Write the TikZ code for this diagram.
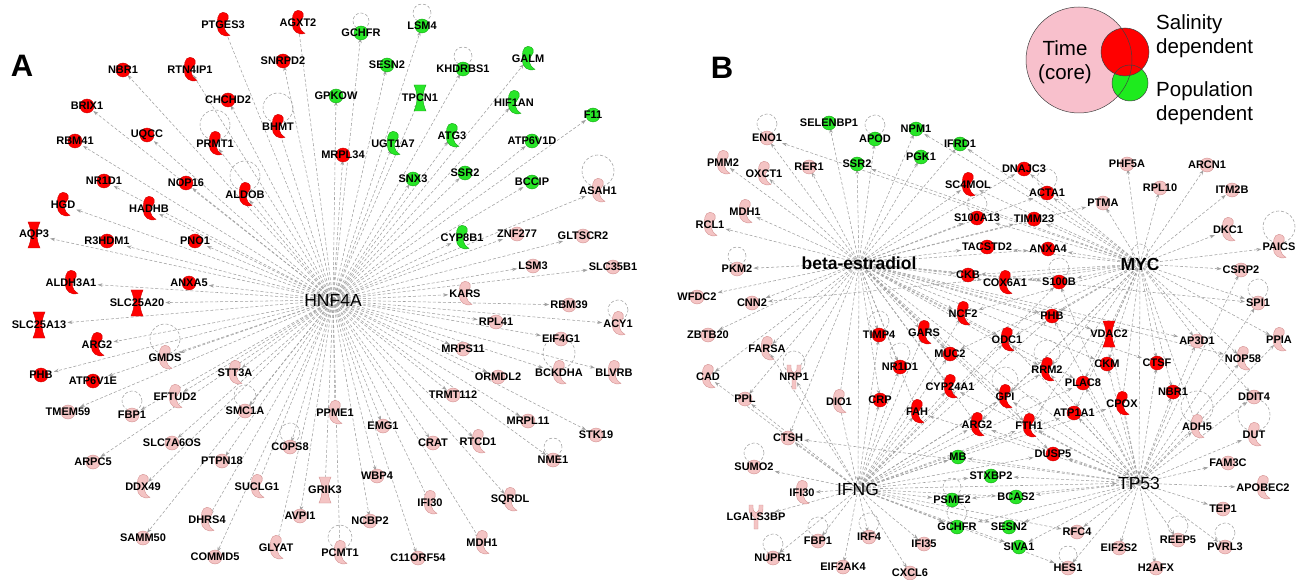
\documentclass[tikz,border=0pt]{standalone}
\usepackage{fontspec}
\setmainfont{Liberation Sans}
\setsansfont{Liberation Sans}
\usetikzlibrary{arrows.meta,backgrounds}
\definecolor{nR}{RGB}{255,0,0}
\definecolor{nRd}{RGB}{205,0,0}
\definecolor{nG}{RGB}{40,230,40}
\definecolor{nGd}{RGB}{20,165,20}
\definecolor{nP}{RGB}{244,196,196}
\definecolor{nPd}{RGB}{212,145,145}
\definecolor{eg}{RGB}{160,160,160}
\definecolor{lgP}{RGB}{248,192,204}
\definecolor{lgR}{RGB}{255,0,0}
\definecolor{lgG}{RGB}{30,235,30}
\tikzset{
  cR/.style={fill=nR,draw=nRd},
  cG/.style={fill=nG,draw=nGd},
  cP/.style={fill=nP,draw=nPd},
  pics/cir/.style={code={\path[#1,line width=0.4pt] (0,0) circle[radius=7pt];}},
  pics/enz/.style={code={\path[#1,line width=0.4pt,scale=1.15] (0,-11) .. controls (5,-11) and (6,-6) .. (3,-3) .. controls (0,0) and (0,5) .. (6,9) .. controls (0,11) and (-5,7) .. (-5,1) .. controls (-5,-4) and (-5,-11) .. (0,-11) -- cycle;}},
  pics/trn/.style={code={\path[#1,line width=0.4pt] (-6,-13) -- (6,-13) .. controls (2,-4) and (2,4) .. (6,13) -- (-6,13) .. controls (-2,4) and (-2,-4) .. (-6,-13) -- cycle;}},
  pics/rcp/.style={code={\path[#1,line width=0.4pt] (-7,-12) -- (-3,-12) .. controls (-3,-6) .. (0,-4) .. controls (3,-6) .. (3,-12) -- (7,-12) .. controls (7,-4) .. (2,0) -- (2,12) -- (-2,12) -- (-2,0) .. controls (-7,-4) .. (-7,-12) -- cycle;}},
  lab/.style={font=\sffamily\bfseries\fontsize{11}{12}\selectfont, inner sep=1pt, text=black},
  hubr/.style={font=\sffamily\fontsize{17.5}{19}\selectfont, inner sep=1pt, text=black},
  hubb/.style={font=\sffamily\bfseries\fontsize{17.5}{19}\selectfont, inner sep=1pt, text=black},
  edge/.style={draw=eg, line width=0.55pt, dash pattern=on 3pt off 2pt, -{Stealth[length=5pt,width=3.5pt,fill=eg]}},
  loopst/.style={draw=eg, line width=0.55pt, dash pattern=on 3pt off 2pt},
  legtxt/.style={font=\sffamily\fontsize{20.5}{23.5}\selectfont, inner sep=0pt, align=left, anchor=west},
  panel/.style={font=\sffamily\bfseries\fontsize{31}{33}\selectfont, inner sep=0pt}
}
\newcommand\gene[6]{\pic at (#3,#4) {#6=#5}; \node[lab] (#1#2) at (#3,#4) {#2};}
\newcommand\selfloop[2][13]{\draw[loopst] ([yshift=#1pt+4pt]#2.center) circle[radius=#1pt];}
\begin{document}
\begin{tikzpicture}[x=1pt,y=-1pt]
\useasboundingbox (0,0) rectangle (1302,580);
% ---------------- Panel A ----------------
\node[panel] (lblA) at (22,66) {A};
\node[hubr] (hA) at (333,300) {HNF4A};
\gene{a}{PTGES3}{223}{25}{cR}{enz}
\gene{a}{AGXT2}{298}{23}{cR}{enz}
\gene{a}{GCHFR}{361}{33}{cG}{cir}
\gene{a}{LSM4}{422}{26}{cG}{cir}
\gene{a}{NBR1}{123}{70}{cR}{cir}
\gene{a}{RTN4IP1}{190}{70}{cR}{enz}
\gene{a}{SNRPD2}{283}{61}{cR}{cir}
\gene{a}{SESN2}{387}{65}{cG}{cir}
\gene{a}{KHDRBS1}{463}{69}{cG}{cir}
\gene{a}{GALM}{528}{59}{cG}{enz}
\gene{a}{BRIX1}{87}{106}{cR}{cir}
\gene{a}{CHCHD2}{228}{100}{cR}{cir}
\gene{a}{GPKOW}{336}{96}{cG}{cir}
\gene{a}{TPCN1}{420}{98}{cG}{trn}
\gene{a}{HIF1AN}{514}{103}{cG}{enz}
\gene{a}{F11}{593}{115}{cG}{cir}
\gene{a}{RBM41}{75}{141}{cR}{cir}
\gene{a}{UQCC}{147}{135}{cR}{cir}
\gene{a}{PRMT1}{215}{144}{cR}{enz}
\gene{a}{BHMT}{278}{127}{cR}{enz}
\gene{a}{MRPL34}{343}{155}{cR}{cir}
\gene{a}{UGT1A7}{393}{144}{cG}{enz}
\gene{a}{ATG3}{452}{136}{cG}{enz}
\gene{a}{ATP6V1D}{532}{141}{cG}{cir}
\gene{a}{NR1D1}{104}{181}{cR}{cir}
\gene{a}{NOP16}{186}{183}{cR}{cir}
\gene{a}{SNX3}{413}{179}{cG}{cir}
\gene{a}{SSR2}{465}{173}{cG}{cir}
\gene{a}{BCCIP}{532}{182}{cG}{cir}
\gene{a}{ASAH1}{598}{191}{cP}{enz}
\gene{a}{HADHB}{149}{209}{cR}{enz}
\gene{a}{ALDOB}{245}{195}{cR}{enz}
\gene{a}{HGD}{63}{205}{cR}{enz}
\gene{a}{AQP3}{34}{235}{cR}{trn}
\gene{a}{R3HDM1}{107}{241}{cR}{cir}
\gene{a}{PNO1}{195}{241}{cR}{cir}
\gene{a}{CYP8B1}{462}{238}{cG}{enz}
\gene{a}{ZNF277}{517}{234}{cP}{cir}
\gene{a}{GLTSCR2}{583}{236}{cP}{cir}
\gene{a}{ALDH3A1}{71}{283}{cR}{enz}
\gene{a}{ANXA5}{189}{283}{cR}{cir}
\gene{a}{LSM3}{533}{266}{cP}{cir}
\gene{a}{SLC35B1}{613}{267}{cP}{cir}
\gene{a}{SLC25A20}{137}{303}{cR}{trn}
\gene{a}{KARS}{465}{294}{cP}{enz}
\gene{a}{RBM39}{569}{305}{cP}{cir}
\gene{a}{SLC25A13}{39}{325}{cR}{trn}
\gene{a}{RPL41}{496}{322}{cP}{cir}
\gene{a}{EIF4G1}{561}{339}{cP}{cir}
\gene{a}{ACY1}{618}{324}{cP}{enz}
\gene{a}{ARG2}{97}{345}{cR}{enz}
\gene{a}{GMDS}{165}{358}{cP}{enz}
\gene{a}{MRPS11}{463}{349}{cP}{cir}
\gene{a}{PHB}{41}{375}{cR}{cir}
\gene{a}{ATP6V1E}{93}{381}{cR}{cir}
\gene{a}{STT3A}{235}{373}{cP}{enz}
\gene{a}{BCKDHA}{559}{373}{cP}{enz}
\gene{a}{ORMDL2}{498}{377}{cP}{cir}
\gene{a}{BLVRB}{614}{373}{cP}{enz}
\gene{a}{TMEM59}{68}{412}{cP}{cir}
\gene{a}{EFTUD2}{175}{397}{cP}{enz}
\gene{a}{FBP1}{132}{415}{cP}{cir}
\gene{a}{SMC1A}{245}{411}{cP}{cir}
\gene{a}{TRMT112}{453}{395}{cP}{cir}
\gene{a}{ARPC5}{93}{462}{cP}{cir}
\gene{a}{SLC7A6OS}{172}{443}{cP}{cir}
\gene{a}{PPME1}{335}{413}{cP}{enz}
\gene{a}{EMG1}{383}{426}{cP}{cir}
\gene{a}{MRPL11}{528}{421}{cP}{cir}
\gene{a}{PTPN18}{222}{461}{cP}{cir}
\gene{a}{COPS8}{290}{447}{cP}{cir}
\gene{a}{CRAT}{433}{443}{cP}{cir}
\gene{a}{RTCD1}{478}{442}{cP}{enz}
\gene{a}{STK19}{596}{435}{cP}{cir}
\gene{a}{DDX49}{143}{487}{cP}{enz}
\gene{a}{GRIK3}{325}{490}{cP}{trn}
\gene{a}{WBP4}{377}{476}{cP}{cir}
\gene{a}{NME1}{553}{460}{cP}{cir}
\gene{a}{SUCLG1}{257}{487}{cP}{enz}
\gene{a}{SQRDL}{510}{500}{cP}{enz}
\gene{a}{IFI30}{430}{503}{cP}{enz}
\gene{a}{DHRS4}{207}{520}{cP}{enz}
\gene{a}{AVPI1}{300}{516}{cP}{cir}
\gene{a}{NCBP2}{370}{521}{cP}{cir}
\gene{a}{SAMM50}{143}{538}{cP}{cir}
\gene{a}{GLYAT}{276}{548}{cP}{enz}
\gene{a}{PCMT1}{340}{553}{cP}{enz}
\gene{a}{C11ORF54}{418}{558}{cP}{cir}
\gene{a}{MDH1}{482}{543}{cP}{enz}
\gene{a}{COMMD5}{215}{557}{cP}{cir}
% ---------------- Panel B ----------------
\node[panel] (lblB) at (722,68) {B};
\node[hubb] (bE) at (859,263) {beta-estradiol};
\node[hubb] (bM) at (1140,264) {MYC};
\node[hubr] (bI) at (858,489) {IFNG};
\node[hubr] (bT) at (1139,483) {TP53};
\gene{b}{SELENBP1}{829}{123}{cG}{cir}
\gene{b}{ENO1}{767}{138}{cP}{cir}
\gene{b}{APOD}{875}{139}{cG}{cir}
\gene{b}{NPM1}{916}{129}{cG}{cir}
\gene{b}{IFRD1}{960}{144}{cG}{cir}
\gene{b}{PGK1}{921}{157}{cG}{cir}
\gene{b}{PMM2}{723}{163}{cP}{enz}
\gene{b}{RER1}{809}{167}{cP}{cir}
\gene{b}{SSR2}{857}{164}{cG}{cir}
\gene{b}{OXCT1}{764}{174}{cP}{enz}
\gene{b}{SC4MOL}{968}{185}{cR}{enz}
\gene{b}{DNAJC3}{1024}{169}{cR}{cir}
\gene{b}{PHF5A}{1127}{164}{cP}{cir}
\gene{b}{ARCN1}{1207}{165}{cP}{cir}
\gene{b}{ACTA1}{1047}{193}{cR}{cir}
\gene{b}{RPL10}{1160}{188}{cP}{cir}
\gene{b}{ITM2B}{1232}{190}{cP}{cir}
\gene{b}{PTMA}{1103}{203}{cP}{cir}
\gene{b}{MDH1}{745}{212}{cP}{enz}
\gene{b}{RCL1}{710}{225}{cP}{enz}
\gene{b}{S100A13}{977}{218}{cR}{cir}
\gene{b}{TIMM23}{1034}{219}{cR}{cir}
\gene{b}{DKC1}{1228}{230}{cP}{enz}
\gene{b}{TACSTD2}{987}{247}{cR}{cir}
\gene{b}{ANXA4}{1048}{249}{cR}{cir}
\gene{b}{PAICS}{1279}{247}{cP}{enz}
\gene{b}{PKM2}{737}{269}{cP}{cir}
\gene{b}{CKB}{968}{275}{cR}{cir}
\gene{b}{COX6A1}{1005}{283}{cR}{enz}
\gene{b}{S100B}{1059}{282}{cR}{cir}
\gene{b}{CSRP2}{1241}{270}{cP}{cir}
\gene{b}{WFDC2}{697}{297}{cP}{cir}
\gene{b}{CNN2}{752}{303}{cP}{cir}
\gene{b}{SPI1}{1258}{303}{cP}{cir}
\gene{b}{NCF2}{963}{314}{cR}{enz}
\gene{b}{PHB}{1052}{316}{cR}{cir}
\gene{b}{ZBTB20}{708}{335}{cP}{cir}
\gene{b}{TIMP4}{879}{335}{cR}{cir}
\gene{b}{GARS}{924}{333}{cR}{enz}
\gene{b}{VDAC2}{1109}{334}{cR}{trn}
\gene{b}{ODC1}{1007}{340}{cR}{enz}
\gene{b}{AP3D1}{1197}{341}{cP}{cir}
\gene{b}{PPIA}{1279}{340}{cP}{enz}
\gene{b}{FARSA}{767}{349}{cP}{enz}
\gene{b}{MUC2}{950}{354}{cR}{cir}
\gene{b}{NOP58}{1243}{359}{cP}{enz}
\gene{b}{NR1D1}{900}{367}{cR}{cir}
\gene{b}{RRM2}{1047}{370}{cR}{enz}
\gene{b}{CKM}{1107}{364}{cR}{cir}
\gene{b}{CTSF}{1157}{363}{cR}{cir}
\gene{b}{CAD}{708}{377}{cP}{enz}
\gene{b}{NRP1}{794}{377}{cP}{rcp}
\gene{b}{PLAC8}{1083}{383}{cR}{cir}
\gene{b}{CYP24A1}{950}{387}{cR}{enz}
\gene{b}{NBR1}{1173}{392}{cR}{cir}
\gene{b}{DDIT4}{1254}{397}{cP}{cir}
\gene{b}{PPL}{745}{399}{cP}{cir}
\gene{b}{DIO1}{839}{402}{cP}{enz}
\gene{b}{CRP}{880}{400}{cR}{cir}
\gene{b}{GPI}{1005}{397}{cR}{enz}
\gene{b}{CPOX}{1122}{404}{cR}{enz}
\gene{b}{FAH}{917}{412}{cR}{enz}
\gene{b}{ATP1A1}{1074}{413}{cR}{cir}
\gene{b}{ARG2}{977}{425}{cR}{enz}
\gene{b}{FTH1}{1029}{426}{cR}{enz}
\gene{b}{ADH5}{1197}{427}{cP}{enz}
\gene{b}{DUT}{1254}{435}{cP}{enz}
\gene{b}{CTSH}{788}{438}{cP}{cir}
\gene{b}{MB}{958}{457}{cG}{cir}
\gene{b}{DUSP5}{1053}{454}{cR}{cir}
\gene{b}{FAM3C}{1228}{463}{cP}{cir}
\gene{b}{SUMO2}{754}{467}{cP}{cir}
\gene{b}{STXBP2}{991}{476}{cG}{cir}
\gene{b}{IFI30}{802}{493}{cP}{enz}
\gene{b}{APOBEC2}{1263}{488}{cP}{enz}
\gene{b}{BCAS2}{1016}{497}{cG}{cir}
\gene{b}{PSME2}{952}{500}{cG}{cir}
\gene{b}{TEP1}{1223}{509}{cP}{cir}
\gene{b}{LGALS3BP}{756}{517}{cP}{rcp}
\gene{b}{GCHFR}{957}{527}{cG}{cir}
\gene{b}{SESN2}{1009}{527}{cG}{cir}
\gene{b}{RFC4}{1077}{532}{cP}{cir}
\gene{b}{IRF4}{869}{537}{cP}{cir}
\gene{b}{FBP1}{818}{541}{cP}{cir}
\gene{b}{IFI35}{924}{544}{cP}{cir}
\gene{b}{REEP5}{1178}{540}{cP}{cir}
\gene{b}{SIVA1}{1019}{547}{cG}{cir}
\gene{b}{EIF2S2}{1119}{548}{cP}{cir}
\gene{b}{PVRL3}{1225}{547}{cP}{cir}
\gene{b}{NUPR1}{773}{558}{cP}{cir}
\gene{b}{EIF2AK4}{843}{567}{cP}{cir}
\gene{b}{HES1}{1068}{568}{cP}{cir}
\gene{b}{H2AFX}{1156}{568}{cP}{cir}
\gene{b}{CXCL6}{910}{573}{cP}{cir}
% ---------------- Legend ----------------
\fill[lgP] (1079,60) circle[radius=53pt];
\fill[lgG] (1130,83) circle[radius=18pt];
\fill[lgR] (1125,52) circle[radius=24pt];
\draw[black!75,line width=0.5pt] (1079,60) circle[radius=53pt] (1130,83) circle[radius=18pt] (1125,52) circle[radius=24pt];
\node[font=\sffamily\fontsize{20.5}{24.5}\selectfont, align=center, inner sep=0pt] (lgT) at (1065,62) {Time\\(core)};
\node[legtxt] (lgS) at (1156,36) {Salinity\\dependent};
\node[legtxt] (lgPop) at (1156,103) {Population\\dependent};
% ---------------- Edges ----------------
\begin{pgfonlayer}{background}
\fill[white] (0,0) rectangle (1302,580);
\foreach \t in {aPTGES3,aAGXT2,aGCHFR,aLSM4,aNBR1,aRTN4IP1,aSNRPD2,aSESN2,aKHDRBS1,aGALM,aBRIX1,aCHCHD2,aGPKOW,aTPCN1,aHIF1AN,aF11,aRBM41,aUQCC,aPRMT1,aBHMT,aMRPL34,aUGT1A7,aATG3,aATP6V1D,aNR1D1,aNOP16,aSNX3,aSSR2,aBCCIP,aASAH1,aHADHB,aALDOB,aHGD,aAQP3,aR3HDM1,aPNO1,aCYP8B1,aZNF277,aGLTSCR2,aALDH3A1,aANXA5,aLSM3,aSLC35B1,aSLC25A20,aKARS,aRBM39,aSLC25A13,aRPL41,aEIF4G1,aACY1,aARG2,aGMDS,aMRPS11,aPHB,aATP6V1E,aSTT3A,aBCKDHA,aORMDL2,aBLVRB,aTMEM59,aEFTUD2,aFBP1,aSMC1A,aTRMT112,aARPC5,aSLC7A6OS,aPPME1,aEMG1,aMRPL11,aPTPN18,aCOPS8,aCRAT,aRTCD1,aSTK19,aDDX49,aGRIK3,aWBP4,aNME1,aSUCLG1,aSQRDL,aIFI30,aDHRS4,aAVPI1,aNCBP2,aSAMM50,aGLYAT,aPCMT1,aC11ORF54,aMDH1,aCOMMD5}
  \draw[edge] (hA.center) -- (\t);
\foreach \t in {bSELENBP1,bENO1,bAPOD,bNPM1,bPGK1,bIFRD1,bPMM2,bRER1,bSSR2,bOXCT1,bMDH1,bRCL1,bPKM2,bWFDC2,bCNN2,bZBTB20,bCAD,bFARSA,bPPL,bNRP1,bSC4MOL,bS100A13,bTACSTD2,bCKB,bNCF2,bCOX6A1,bGARS,bTIMP4,bMUC2,bNR1D1,bCYP24A1,bCRP,bDIO1,bFAH,bODC1,bPHB,bVDAC2,bCTSF,bAP3D1,bNOP58,bSPI1,bRRM2,bGPI,bARG2,bPLAC8,bDNAJC3,bTIMM23,bANXA4,bS100B,bACTA1,bPTMA,bCTSH,bDUSP5,bFTH1,bCKM}
  \draw[edge] (bE.center) -- (\t);
\foreach \t in {bPHF5A,bARCN1,bRPL10,bITM2B,bPTMA,bDKC1,bPAICS,bCSRP2,bSPI1,bPPIA,bNOP58,bAP3D1,bVDAC2,bCKM,bCTSF,bNBR1,bCPOX,bDDIT4,bACTA1,bDNAJC3,bTIMM23,bANXA4,bS100B,bCOX6A1,bPHB,bENO1,bNPM1,bIFRD1,bODC1,bNCF2,bRRM2,bPLAC8,bATP1A1,bGPI,bFTH1,bADH5,bTACSTD2,bCKB,bS100A13,bMUC2,bSSR2,bCNN2,bARG2,bSC4MOL}
  \draw[edge] (bM.center) -- (\t);
\foreach \t in {bAPOBEC2,bFAM3C,bTEP1,bREEP5,bPVRL3,bH2AFX,bEIF2S2,bRFC4,bHES1,bSIVA1,bSESN2,bBCAS2,bSTXBP2,bDUSP5,bATP1A1,bFTH1,bGPI,bCPOX,bNBR1,bCTSF,bADH5,bDUT,bDDIT4,bPLAC8,bCKM,bRRM2,bARG2,bMB,bCYP24A1,bFAH,bODC1,bVDAC2,bCTSH,bPHB,bPPIA,bNOP58,bSPI1,bGCHFR,bPSME2,bCSRP2,bAP3D1,bS100B}
  \draw[edge] (bT.center) -- (\t);
\foreach \t in {bCTSH,bSUMO2,bIFI30,bLGALS3BP,bFBP1,bIRF4,bIFI35,bNUPR1,bEIF2AK4,bCXCL6,bPSME2,bGCHFR,bMB,bSTXBP2,bDIO1,bCRP,bTIMP4,bNR1D1,bFAH,bCYP24A1,bARG2,bGPI,bFTH1,bNRP1,bMUC2,bGARS,bNCF2,bODC1,bRRM2,bPLAC8,bATP1A1,bDUSP5,bBCAS2,bHES1,bRFC4,bCPOX,bPHB,bFARSA,bCAD,bPPL,bS100B,bSESN2,bSIVA1}
  \draw[edge] (bI.center) -- (\t);
\draw[edge] (bE) -- (bI);
\draw[edge] (bE) -- (bT);
\draw[edge] (bI) -- (bT);
\draw[edge] (bM) -- (bT);
% self loops
\selfloop[8]{aGCHFR}
\selfloop[9]{aLSM4}
\selfloop[9]{aKHDRBS1}
\selfloop[15]{aBHMT}
\selfloop[15]{aPRMT1}
\selfloop[15]{aALDOB}
\selfloop[16]{aASAH1}
\selfloop[10]{aACY1}
\selfloop[15]{aGMDS}
\selfloop[16]{aBCKDHA}
\selfloop[10]{aFBP1}
\selfloop[11]{aSMC1A}
\selfloop[10]{aCOPS8}
\selfloop[9]{aNME1}
\selfloop[12]{aPCMT1}
\selfloop[10]{bENO1}
\selfloop[10]{bAPOD}
\selfloop[10]{bS100A13}
\selfloop[10]{bACTA1}
\selfloop[10]{bS100B}
\selfloop[9]{bPKM2}
\selfloop[10]{bTIMP4}
\selfloop[10]{bNR1D1}
\selfloop[11]{bNRP1}
\selfloop[10]{bSUMO2}
\selfloop[10]{bFBP1}
\selfloop[10]{bIRF4}
\selfloop[10]{bNUPR1}
\selfloop[10]{bGCHFR}
\selfloop[9]{bPSME2}
\selfloop[16]{bPAICS}
\selfloop[10]{bSPI1}
\selfloop[16]{bADH5}
\selfloop[16]{bDUT}
\selfloop[10]{bREEP5}
\selfloop[10]{bPVRL3}
\selfloop[9]{bHES1}
\selfloop[13]{bRRM2}
\selfloop[13]{bGPI}
\selfloop[13]{bFTH1}
\selfloop[8]{bM}
\end{pgfonlayer}
\end{tikzpicture}
\end{document}
